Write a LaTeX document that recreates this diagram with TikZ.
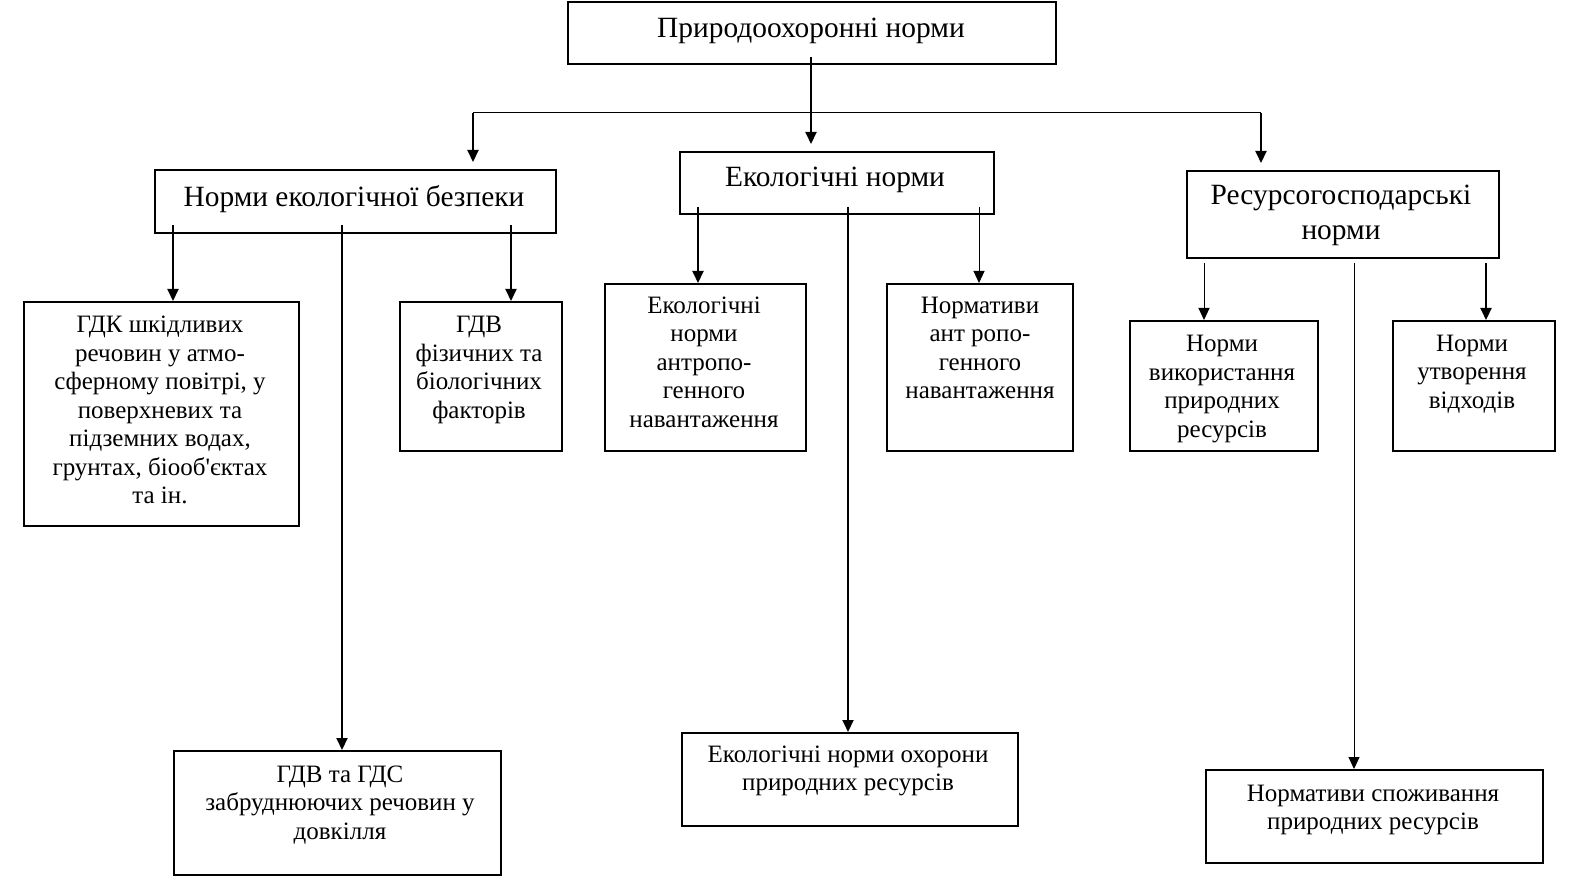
\documentclass[tikz,border=0pt]{standalone}
\usepackage{fontspec}
\setmainfont{Liberation Serif}[Ligatures=TeXOff]
\usetikzlibrary{arrows.meta}
\begin{document}
\begin{tikzpicture}[x=0.5pt,y=-0.5pt,
  box/.style={draw,line width=0.9pt,inner sep=0pt,anchor=north west},
  txt/.style={align=center,inner sep=0pt,font=\fontsize{12.5}{14.25}\selectfont},
  ttl/.style={align=center,inner sep=0pt,font=\fontsize{14.7}{17.5}\selectfont},
  arr/.style={line width=1pt,-{Triangle[length=6pt,width=5.5pt]}},
  tarr/.style={line width=0.5pt,-{Triangle[length=6pt,width=5.5pt]}},
  tline/.style={line width=0.5pt}]
\useasboundingbox (0,0) rectangle (1569,882);
% boxes
\node[box,minimum width=244pt,minimum height=31pt] (top) at (567,1) {};
\node[box,minimum width=200.5pt,minimum height=31.5pt] (nb) at (154,169) {};
\node[box,minimum width=157pt,minimum height=31pt] (en) at (679,151) {};
\node[box,minimum width=156pt,minimum height=43.5pt] (rn) at (1186,170) {};
\node[box,minimum width=137.5pt,minimum height=112pt] (gdk) at (23,301) {};
\node[box,minimum width=81pt,minimum height=74.5pt] (gdv) at (399,301) {};
\node[box,minimum width=100.5pt,minimum height=83.5pt] (ean) at (604,283) {};
\node[box,minimum width=93pt,minimum height=83.5pt] (nan) at (886,283) {};
\node[box,minimum width=94pt,minimum height=65pt] (nvr) at (1129,320) {};
\node[box,minimum width=81pt,minimum height=65pt] (nuv) at (1392,320) {};
\node[box,minimum width=163.5pt,minimum height=62pt] (gds) at (173,750) {};
\node[box,minimum width=168pt,minimum height=46.5pt] (eoh) at (681,732) {};
\node[box,minimum width=168.5pt,minimum height=46.5pt] (nsp) at (1205,769) {};
% texts
\node[ttl] (ttop) at (811,31) {Природоохоронні норми};
\node[ttl] (tnb) at (354,199) {Норми екологічної безпеки};
\node[ttl] (ten) at (835,180) {Екологічні норми};
\node[ttl] (trn) at (1341,215) {Ресурсогосподарські\\норми};
\node[txt] (tgdk) at (160,410) {ГДК шкідливих\\речовин у атмо-\\сферному повітрі, у\\поверхневих та\\підземних водах,\\грунтах, біооб'єктах\\та ін.};
\node[txt] (tgdv) at (479,370) {ГДВ\\фізичних та\\біологічних\\факторів};
\node[txt] (tean) at (704,362) {Екологічні\\норми\\антропо-\\генного\\навантаження};
\node[txt] (tnan) at (980,348) {Нормативи\\ант ропо-\\генного\\навантаження};
\node[txt] (tnvr) at (1222,389) {Норми\\використання\\природних\\ресурсів};
\node[txt] (tnuv) at (1472,374) {Норми\\утворення\\відходів};
\node[txt] (tgds) at (340,805) {ГДВ та ГДС\\забруднюючих речовин у\\довкілля};
\node[txt] (teoh) at (848,771) {Екологічні норми охорони\\природних ресурсів};
\node[txt] (tnsp) at (1373,810) {Нормативи споживання\\природних ресурсів};
% connector coordinates
\coordinate (c0) at (811,57);
\coordinate (hl) at (473,113);
\coordinate (hr) at (1261,113);
\coordinate (n1) at (173,225);
\coordinate (n2) at (342,225);
\coordinate (n3) at (511,225);
\coordinate (e1) at (698,207);
\coordinate (e2) at (848,207);
\coordinate (e3) at (979,207);
\coordinate (r1) at (1204,263);
\coordinate (r2) at (1354,263);
\coordinate (r3) at (1486,263);
% connectors
\draw[arr,shorten >=3.5pt] (c0) -- (c0 |- en.north);
\draw[tline] (hl) -- (hr);
\draw[arr,shorten >=3.5pt] (hl) -- (hl |- nb.north);
\draw[arr,shorten >=3.5pt] (hr) -- (hr |- rn.north);
\draw[arr] (n1) -- (n1 |- gdk.north);
\draw[arr] (n2) -- (n2 |- gds.north);
\draw[arr] (n3) -- (n3 |- gdv.north);
\draw[arr] (e1) -- (e1 |- ean.north);
\draw[arr] (e2) -- (e2 |- eoh.north);
\draw[tarr] (e3) -- (e3 |- nan.north);
\draw[tarr] (r1) -- (r1 |- nvr.north);
\draw[tarr] (r2) -- (r2 |- nsp.north);
\draw[arr] (r3) -- (r3 |- nuv.north);
\end{tikzpicture}
\end{document}
